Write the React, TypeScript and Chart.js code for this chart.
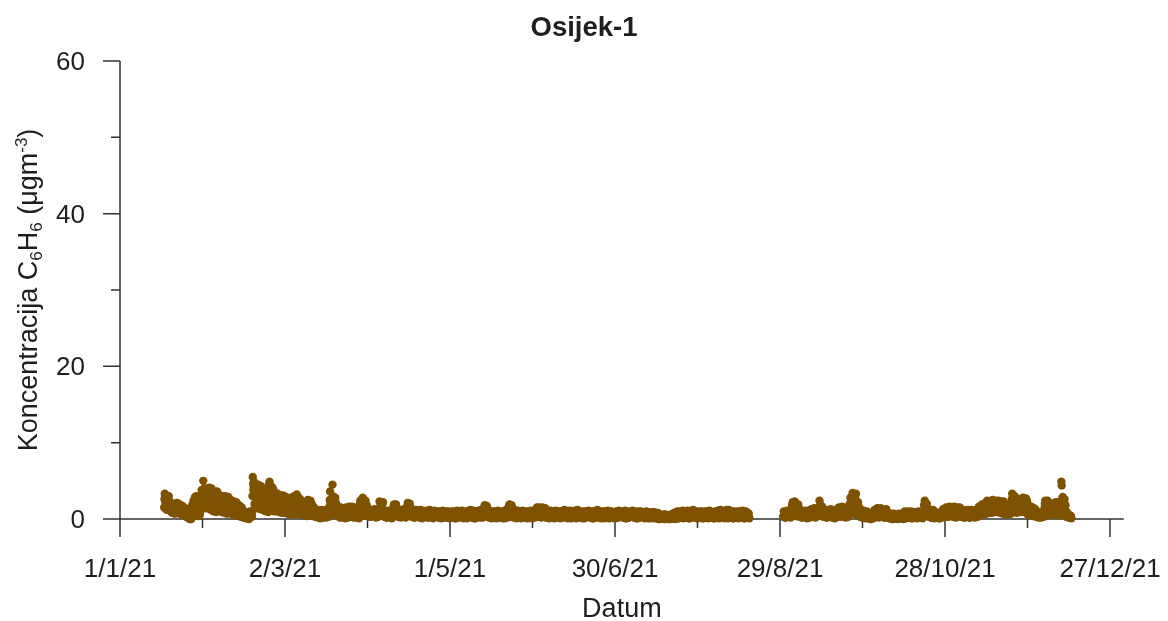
import { useEffect, useRef } from 'react';
import { Chart, registerables } from 'chart.js';

Chart.register(...registerables);

const chartTitle = 'Osijek-1';
const xAxisTitle = 'Datum';
const yTitleParts = [
  { text: 'Koncentracija C', kind: 'n' },
  { text: '6', kind: 'sub' },
  { text: 'H', kind: 'n' },
  { text: '6', kind: 'sub' },
  { text: ' (μgm', kind: 'n' },
  { text: '-3', kind: 'sup' },
  { text: ')', kind: 'n' },
];

const xMin = 0;
const xMax = 365;
const yMin = 0;
const yMax = 60;
const xTickDays = [0, 30, 60, 90, 120, 150, 180, 210, 240, 270, 300, 330, 360];
const xTickLabels = ['1/1/21', '', '2/3/21', '', '1/5/21', '', '30/6/21', '', '29/8/21', '', '28/10/21', '', '27/12/21'];
const yTickValues = [0, 10, 20, 30, 40, 50, 60];
const yTickLabels = ['0', '', '20', '', '40', '', '60'];

// Readings per day (µg/m3), one list per month; null = no data that day.
const jan: (number[] | null)[] = [
  null, null, null, null, null, null, null, null, null, null, null, null, null, null, null, null,
  [1.5, 2.6, 3.3, 3.0, 2.2, 2.8, 3.1, 1.9, 1.2],
  [2.2, 2.9, 2.5, 1.6, 2.0, 2.7, 3.0, 2.4, 1.4],
  [1.4, 2.0, 1.7, 1.0, 1.3, 2.1, 1.9, 1.2, 0.8],
  [1.1, 1.8, 1.5, 0.8, 1.2, 1.9, 2.0, 1.4, 0.7],
  [1.0, 1.7, 1.9, 1.1, 0.9, 1.6, 2.1, 1.5, 0.9],
  [1.2, 2.0, 1.8, 1.0, 0.8, 1.7, 1.9, 1.3, 0.7],
  [0.9, 1.6, 1.4, 0.7, 0.6, 1.5, 1.7, 1.1, 0.6],
  [0.7, 1.3, 1.2, 0.5, 0.4, 1.0, 1.4, 0.8, 0.4],
  [0.4, 0.9, 0.7, 0.3, 0.2, 0.6, 0.8, 0.5, 0.2],
  [0.1, 0.4, 0.3, 0.0, 0.1, 0.3, 0.5, 0.2, 0.0],
  [0.4, 1.2, 1.8, 1.4, 0.9, 2.0, 2.4, 1.6, 1.0],
  [1.3, 2.4, 2.9, 2.0, 1.5, 2.6, 3.0, 2.2, 1.1],
  [0.8, 1.6, 1.4, 0.6, 0.4, 1.2, 1.7, 1.0, 0.5],
  [0.7, 2.2, 3.0, 2.4, 1.6, 3.2, 3.8, 2.8, 1.8],
  [2.0, 3.4, 5.0, 3.9, 2.8, 3.6, 4.0, 2.6, 1.4],
];
const feb: (number[] | null)[] = [
  [1.8, 3.0, 3.8, 3.4, 2.4, 3.2, 4.0, 2.9, 1.5],
  [1.4, 2.8, 3.6, 4.1, 2.6, 3.0, 3.5, 2.2, 1.2],
  [1.9, 3.3, 4.0, 3.1, 2.0, 2.7, 3.4, 2.5, 1.0],
  [1.1, 2.4, 3.0, 3.5, 2.2, 2.6, 3.2, 2.0, 0.9],
  [1.6, 2.9, 3.6, 3.2, 1.9, 2.5, 3.3, 2.4, 1.1],
  [1.2, 2.5, 3.0, 2.7, 1.7, 2.3, 2.9, 2.0, 0.9],
  [1.0, 2.2, 2.8, 3.0, 1.8, 2.1, 2.7, 1.7, 0.8],
  [1.3, 2.4, 3.0, 2.5, 1.5, 2.0, 2.6, 1.8, 0.7],
  [0.9, 2.0, 2.6, 2.9, 1.6, 1.9, 2.5, 1.6, 0.8],
  [1.0, 2.1, 2.5, 2.2, 1.3, 1.7, 2.3, 1.4, 0.6],
  [0.7, 1.5, 2.0, 2.3, 1.2, 1.4, 1.9, 1.1, 0.5],
  [0.8, 1.6, 2.2, 1.8, 1.0, 1.3, 1.8, 1.0, 0.4],
  [0.5, 1.2, 1.8, 1.5, 0.8, 1.0, 1.4, 0.8, 0.3],
  [0.4, 1.0, 1.5, 1.2, 0.6, 0.8, 1.1, 0.5, 0.2],
  [0.2, 0.6, 1.0, 0.7, 0.3, 0.4, 0.6, 0.3, 0.1],
  [0.1, 0.4, 0.8, 0.5, 0.2, 0.3, 0.5, 0.2, 0.0],
  [0.2, 0.6, 1.0, 0.8, 0.4, 0.5, 0.9, 0.6, 0.3],
  [1.0, 3.0, 5.5, 4.6, 3.8, 4.2, 4.9, 3.4, 2.0],
  [1.8, 3.2, 4.2, 3.8, 2.9, 3.5, 4.0, 3.0, 1.6],
  [1.4, 3.0, 4.5, 3.8, 2.6, 3.3, 4.1, 2.8, 1.3],
  [1.6, 3.1, 4.3, 3.6, 2.4, 3.0, 3.9, 2.6, 1.2],
  [1.2, 2.8, 3.6, 4.0, 2.2, 2.9, 3.7, 2.4, 1.0],
  [1.3, 2.6, 3.2, 3.0, 1.9, 2.5, 3.4, 2.2, 0.9],
  [1.4, 3.2, 4.6, 4.9, 2.8, 3.4, 4.2, 2.9, 1.3],
  [1.5, 3.0, 4.2, 3.6, 2.5, 3.1, 3.9, 2.7, 1.2],
  [1.0, 2.4, 3.0, 3.4, 2.0, 2.6, 3.2, 2.3, 1.0],
  [1.2, 2.5, 3.3, 2.8, 1.8, 2.4, 3.0, 2.0, 0.9],
  [0.9, 2.2, 2.8, 3.1, 1.7, 2.3, 2.9, 2.1, 0.8],
];
const mar: (number[] | null)[] = [
  [1.1, 2.4, 3.1, 2.6, 1.6, 2.2, 2.8, 1.9, 0.8],
  [0.8, 2.0, 2.6, 2.9, 1.5, 2.1, 2.7, 1.8, 0.7],
  [0.8, 1.8, 2.4, 2.0, 1.2, 1.6, 2.2, 1.4, 0.6],
  [0.9, 2.0, 2.8, 2.2, 1.3, 1.8, 2.5, 1.6, 0.7],
  [1.0, 2.2, 3.0, 2.4, 1.4, 1.9, 2.6, 1.7, 0.6],
  [1.1, 2.4, 3.2, 2.7, 1.6, 2.1, 2.9, 2.0, 0.8],
  [0.9, 2.1, 2.7, 2.3, 1.4, 1.8, 2.5, 1.6, 0.7],
  [0.6, 1.4, 1.9, 1.6, 1.0, 1.2, 1.7, 1.1, 0.5],
  [0.7, 1.5, 2.0, 1.5, 0.9, 1.3, 1.8, 1.0, 0.4],
  [0.7, 1.7, 2.5, 2.0, 1.1, 1.5, 2.2, 1.3, 0.5],
  [0.8, 1.6, 2.4, 1.8, 1.0, 1.4, 2.0, 1.2, 0.5],
  [0.5, 1.1, 1.6, 1.3, 0.8, 1.0, 1.4, 0.9, 0.3],
  [0.4, 0.9, 1.2, 1.0, 0.5, 0.7, 1.1, 0.6, 0.2],
  [0.4, 0.8, 1.1, 0.9, 0.5, 0.6, 1.0, 0.5, 0.1],
  [0.3, 0.8, 1.2, 1.0, 0.6, 0.7, 1.1, 0.6, 0.2],
  [0.5, 0.9, 1.1, 0.8, 0.4, 0.6, 1.0, 0.7, 0.2],
  [0.4, 0.8, 1.2, 1.0, 0.6, 0.7, 1.1, 0.8, 0.3],
  [0.7, 1.6, 2.5, 3.6, 2.0, 1.5, 2.4, 1.6, 0.6],
  [1.0, 2.4, 4.5, 3.0, 2.2, 2.0, 2.8, 1.7, 0.7],
  [0.7, 1.7, 2.8, 2.2, 1.3, 1.2, 1.9, 1.1, 0.5],
  [0.4, 0.9, 1.4, 1.1, 0.6, 0.7, 1.2, 0.6, 0.2],
  [0.4, 0.9, 1.3, 1.5, 0.7, 0.8, 1.2, 0.7, 0.2],
  [0.3, 0.8, 1.2, 1.0, 0.5, 0.6, 1.1, 0.6, 0.1],
  [0.4, 1.0, 1.5, 1.2, 0.6, 0.8, 1.3, 0.7, 0.2],
  [0.4, 1.1, 1.6, 1.3, 0.7, 0.9, 1.4, 0.8, 0.3],
  [0.5, 1.0, 1.6, 1.2, 0.6, 0.8, 1.3, 0.7, 0.2],
  [0.3, 0.9, 1.3, 1.5, 0.7, 0.8, 1.2, 0.6, 0.2],
  [0.4, 1.0, 1.4, 1.1, 0.5, 0.7, 1.2, 0.6, 0.1],
  [0.6, 1.4, 2.0, 2.4, 1.2, 1.3, 1.9, 1.1, 0.4],
  [0.7, 1.6, 2.8, 2.2, 1.3, 1.5, 2.1, 1.2, 0.5],
  [0.6, 1.4, 2.4, 1.8, 1.0, 1.2, 1.8, 1.0, 0.4],
];
const apr: (number[] | null)[] = [
  [0.5, 1.3, 1.0, 0.3], [0.3, 1.2, 0.9, 0.4], [0.4, 1.1, 1.3, 0.5], [0.2, 1.0, 0.8, 0.3],
  [0.5, 2.3, 1.6, 0.8], [0.6, 1.9, 2.2, 0.9], [0.3, 1.0, 0.8, 0.2], [0.2, 1.1, 0.9, 0.4],
  [0.4, 1.0, 0.7, 0.1], [0.5, 1.5, 1.9, 0.8], [0.6, 1.9, 1.4, 0.5], [0.3, 1.2, 1.0, 0.4],
  [0.2, 1.1, 1.2, 0.3], [0.4, 1.3, 0.9, 0.2], [0.5, 1.6, 2.1, 0.7], [0.6, 2.0, 1.5, 0.4],
  [0.3, 1.1, 0.9, 0.2], [0.2, 1.0, 1.2, 0.4], [0.3, 0.9, 1.1, 0.2], [0.4, 1.2, 0.8, 0.1],
  [0.2, 1.0, 0.9, 0.3], [0.3, 1.1, 0.7, 0.2], [0.2, 0.9, 1.2, 0.4], [0.3, 1.0, 0.8, 0.1],
  [0.2, 1.1, 0.9, 0.3], [0.3, 0.9, 1.0, 0.2], [0.2, 1.0, 0.8, 0.1], [0.4, 1.1, 0.9, 0.3],
  [0.2, 0.8, 1.0, 0.2], [0.3, 1.0, 0.7, 0.1],
];
const may: (number[] | null)[] = [
  [0.2, 0.9, 1.0, 0.3], [0.3, 1.0, 0.8, 0.1], [0.1, 0.8, 1.1, 0.2], [0.2, 1.0, 0.9, 0.3],
  [0.3, 1.1, 0.7, 0.1], [0.2, 0.9, 1.0, 0.2], [0.1, 1.0, 0.8, 0.3], [0.3, 1.2, 0.9, 0.2],
  [0.2, 0.9, 1.1, 0.1], [0.1, 1.0, 0.8, 0.2], [0.3, 1.1, 0.9, 0.3], [0.2, 1.2, 1.0, 0.2],
  [0.3, 1.4, 1.8, 0.5], [0.4, 1.7, 1.3, 0.3], [0.2, 1.1, 0.9, 0.2], [0.1, 0.9, 1.0, 0.3],
  [0.2, 1.0, 0.8, 0.1], [0.3, 1.1, 0.9, 0.2], [0.2, 0.9, 1.0, 0.3], [0.1, 1.0, 0.8, 0.1],
  [0.3, 1.2, 1.0, 0.2], [0.4, 1.6, 1.9, 0.5], [0.3, 1.8, 1.4, 0.4], [0.2, 1.2, 1.0, 0.2],
  [0.1, 0.9, 1.1, 0.3], [0.2, 1.0, 0.8, 0.1], [0.3, 1.1, 0.9, 0.2], [0.2, 0.9, 1.0, 0.3],
  [0.1, 1.0, 0.8, 0.2], [0.2, 1.1, 0.9, 0.1], [0.3, 1.0, 1.1, 0.2],
];
const jun: (number[] | null)[] = [
  [0.3, 1.3, 1.5, 0.4], [0.4, 1.5, 1.2, 0.3], [0.2, 1.4, 1.5, 0.5], [0.3, 1.2, 1.4, 0.2],
  [0.2, 1.1, 1.0, 0.3], [0.1, 0.9, 1.1, 0.2], [0.2, 1.0, 0.8, 0.1], [0.3, 1.1, 0.9, 0.2],
  [0.2, 0.9, 1.0, 0.3], [0.1, 1.0, 0.8, 0.2], [0.2, 1.1, 1.2, 0.3], [0.3, 1.0, 0.9, 0.1],
  [0.2, 0.9, 1.1, 0.2], [0.1, 1.0, 0.8, 0.3], [0.2, 1.1, 0.9, 0.1], [0.3, 1.2, 1.0, 0.2],
  [0.2, 1.0, 0.9, 0.2], [0.1, 0.9, 1.0, 0.1], [0.2, 1.0, 0.8, 0.3], [0.3, 1.1, 0.9, 0.2],
  [0.2, 0.9, 1.0, 0.1], [0.1, 1.0, 0.8, 0.2], [0.2, 1.1, 1.2, 0.3], [0.3, 1.0, 0.9, 0.1],
  [0.2, 0.9, 1.0, 0.2], [0.1, 1.0, 0.8, 0.2], [0.2, 1.1, 0.9, 0.1], [0.3, 1.0, 1.0, 0.3],
  [0.2, 0.9, 0.8, 0.1], [0.1, 1.0, 0.9, 0.2],
];
const jul: (number[] | null)[] = [
  [0.2, 1.1, 1.0, 0.3], [0.3, 1.0, 0.9, 0.2], [0.2, 0.9, 1.1, 0.1], [0.1, 1.0, 0.8, 0.2],
  [0.2, 0.9, 1.0, 0.3], [0.3, 1.1, 0.9, 0.2], [0.2, 1.0, 0.8, 0.1], [0.1, 0.9, 1.0, 0.2],
  [0.2, 1.0, 0.9, 0.3], [0.3, 0.9, 0.8, 0.1], [0.2, 1.0, 0.9, 0.2], [0.1, 0.9, 0.8, 0.1],
  [0.2, 0.8, 0.9, 0.2], [0.1, 0.9, 0.7, 0.1], [0.2, 0.7, 0.8, 0.0], [0.0, 0.6, 0.5, 0.1],
  [0.1, 0.5, 0.6, 0.0], [0.0, 0.6, 0.5, 0.0], [0.1, 0.5, 0.4, 0.0], [0.0, 0.6, 0.5, 0.1],
  [0.1, 0.8, 0.7, 0.0], [0.2, 0.9, 1.0, 0.1], [0.1, 1.0, 0.8, 0.2], [0.2, 0.9, 1.1, 0.1],
  [0.3, 1.0, 0.9, 0.2], [0.2, 1.1, 1.0, 0.1], [0.1, 1.0, 0.9, 0.2], [0.3, 1.2, 1.1, 0.2],
  [0.2, 1.0, 0.9, 0.1], [0.1, 0.9, 1.0, 0.2], [0.2, 1.0, 0.8, 0.1],
];
const aug: (number[] | null)[] = [
  [0.1, 0.9, 1.0, 0.2], [0.2, 1.0, 0.9, 0.1], [0.3, 1.1, 1.0, 0.2], [0.2, 0.9, 0.8, 0.1],
  [0.1, 1.0, 0.9, 0.2], [0.2, 1.1, 1.0, 0.1], [0.3, 1.2, 1.1, 0.2], [0.2, 1.0, 0.9, 0.1],
  [0.2, 1.1, 1.2, 0.3], [0.1, 1.2, 1.0, 0.2], [0.2, 0.9, 1.0, 0.1], [0.1, 1.0, 0.8, 0.2],
  [0.2, 0.9, 1.0, 0.1], [0.3, 1.0, 0.9, 0.2], [0.2, 1.1, 1.0, 0.1], [0.1, 0.9, 1.0, 0.2],
  [0.2, 0.8, 0.7, 0.1],
  null, null, null, null, null, null, null, null, null, null, null, null,
  [0.3, 1.0, 0.8, 0.2], [0.2, 0.9, 1.1, 0.3],
];
const sep: (number[] | null)[] = [
  [0.4, 1.0, 0.9, 0.2], [0.5, 1.8, 2.2, 0.8], [0.6, 2.3, 1.6, 0.4], [0.4, 1.5, 1.9, 0.6],
  [0.3, 1.0, 1.2, 0.2], [0.2, 0.9, 1.0, 0.3], [0.3, 1.1, 0.9, 0.1], [0.2, 1.0, 1.1, 0.2],
  [0.4, 1.3, 1.0, 0.3], [0.5, 1.4, 1.2, 0.2], [0.3, 1.2, 1.4, 0.4], [0.6, 2.4, 1.8, 0.5],
  [0.4, 1.6, 1.3, 0.3], [0.3, 1.2, 1.1, 0.2], [0.2, 1.1, 1.0, 0.3], [0.4, 1.3, 1.2, 0.2],
  [0.3, 1.0, 1.1, 0.1], [0.2, 1.2, 0.9, 0.3], [0.4, 1.5, 1.3, 0.3], [0.5, 1.4, 1.6, 0.4],
  [0.3, 1.5, 1.2, 0.2], [0.4, 1.3, 1.4, 0.3], [0.6, 2.0, 2.8, 1.2], [0.8, 3.4, 2.6, 1.0],
  [0.7, 2.8, 3.3, 1.5], [0.5, 2.2, 1.6, 0.6], [0.3, 1.0, 1.2, 0.2], [0.2, 1.1, 0.9, 0.3],
  [0.1, 0.9, 1.0, 0.2], [0.1, 0.6, 0.5, 0.0],
];
const oct: (number[] | null)[] = [
  [0.0, 0.5, 0.6, 0.1], [0.2, 1.2, 1.0, 0.3], [0.3, 1.4, 1.2, 0.2], [0.4, 1.3, 1.4, 0.3],
  [0.3, 1.2, 1.0, 0.2], [0.2, 1.1, 1.3, 0.4], [0.2, 0.8, 0.7, 0.1], [0.1, 0.6, 0.7, 0.0],
  [0.0, 0.7, 0.6, 0.1], [0.1, 0.6, 0.5, 0.0], [0.2, 0.7, 0.6, 0.1], [0.1, 0.6, 0.7, 0.0],
  [0.2, 1.0, 0.9, 0.1], [0.3, 1.0, 0.8, 0.2], [0.2, 0.9, 1.0, 0.1], [0.1, 0.8, 0.9, 0.2],
  [0.2, 0.9, 0.8, 0.1], [0.3, 1.0, 0.9, 0.2], [0.2, 0.9, 1.0, 0.1], [0.5, 1.8, 2.4, 0.8],
  [0.4, 2.0, 1.4, 0.5], [0.3, 1.2, 1.1, 0.2], [0.2, 1.0, 1.2, 0.3], [0.1, 0.8, 0.9, 0.2],
  [0.2, 0.7, 0.8, 0.1], [0.1, 0.9, 0.8, 0.2], [0.3, 1.3, 1.2, 0.4], [0.4, 1.5, 1.3, 0.3],
  [0.3, 1.4, 1.6, 0.5], [0.5, 1.5, 1.3, 0.3], [0.4, 1.6, 1.4, 0.2],
];
const nov: (number[] | null)[] = [
  [0.3, 1.3, 1.5, 0.4], [0.4, 1.5, 1.2, 0.3], [0.3, 1.1, 1.2, 0.2], [0.2, 1.0, 1.1, 0.3],
  [0.3, 1.2, 1.0, 0.2], [0.2, 1.1, 1.2, 0.3], [0.3, 1.0, 1.1, 0.2], [0.4, 1.2, 1.0, 0.3],
  [0.5, 1.2, 1.6, 1.4, 0.8, 1.0, 1.5, 0.6],
  [0.6, 1.3, 1.7, 1.9, 1.0, 1.2, 1.6, 0.7],
  [0.6, 1.5, 2.0, 1.6, 1.1, 1.3, 1.8, 0.8],
  [0.7, 1.8, 2.4, 2.0, 1.3, 1.6, 2.2, 0.9],
  [0.8, 1.7, 2.0, 2.3, 1.4, 1.5, 2.1, 0.9],
  [0.8, 1.9, 2.5, 2.1, 1.5, 1.7, 2.3, 1.0],
  [0.9, 1.8, 2.3, 2.4, 1.4, 1.6, 2.2, 1.0],
  [0.9, 2.0, 2.4, 2.0, 1.4, 1.8, 2.3, 0.9],
  [0.8, 1.8, 2.2, 2.3, 1.5, 1.7, 2.1, 0.9],
  [0.7, 1.7, 2.3, 1.9, 1.2, 1.5, 2.0, 0.8],
  [0.6, 1.3, 1.8, 1.6, 1.0, 1.2, 1.7, 0.7],
  [0.6, 1.2, 1.5, 1.7, 1.0, 1.1, 1.6, 0.7],
  [0.8, 2.0, 2.6, 3.3, 1.8, 2.2, 2.8, 1.2],
  [1.0, 2.2, 3.0, 2.4, 1.7, 2.0, 2.7, 1.1],
  [0.8, 1.9, 2.6, 2.2, 1.5, 1.8, 2.4, 1.0],
  [0.9, 2.0, 2.4, 2.6, 1.6, 1.9, 2.5, 1.1],
  [0.9, 2.1, 2.8, 2.3, 1.4, 1.8, 2.6, 1.0],
  [1.0, 2.2, 2.5, 2.7, 1.7, 2.0, 2.4, 1.1],
  [0.6, 1.3, 1.8, 1.4, 0.9, 1.1, 1.6, 0.7],
  [0.5, 1.1, 1.5, 1.6, 0.8, 1.0, 1.4, 0.6],
  [0.4, 1.0, 1.4, 1.2, 0.7, 0.9, 1.3, 0.5],
  [0.3, 0.7, 1.0, 0.8, 0.5, 0.6, 0.9, 0.3],
];
const dec: (number[] | null)[] = [
  [0.2, 0.5, 0.8, 0.7, 0.4, 0.5, 0.7, 0.2],
  [0.3, 0.6, 0.9, 0.7, 0.4, 0.5, 0.8, 0.3],
  [0.5, 1.4, 2.0, 2.4, 1.3, 1.6, 2.2, 0.9],
  [0.7, 1.6, 2.4, 1.9, 1.2, 1.5, 2.1, 0.8],
  [0.5, 1.4, 2.0, 1.8, 1.0, 1.3, 1.9, 0.7],
  [0.6, 1.5, 1.9, 2.0, 1.2, 1.4, 1.8, 0.7],
  [0.6, 1.6, 2.2, 1.7, 1.1, 1.4, 2.0, 0.8],
  [0.5, 1.4, 1.8, 2.2, 1.2, 1.3, 1.9, 0.7],
  [0.6, 2.2, 4.9, 4.4, 2.6, 2.0, 2.9, 1.2],
  [0.5, 1.5, 2.2, 2.6, 1.3, 1.2, 1.8, 0.7],
  [0.3, 0.6, 0.9, 0.7, 0.4, 0.5, 0.6, 0.2],
  [0.2, 0.4, 0.5, 0.4, 0.2, 0.3, 0.4, 0.1],
];

const months = [jan, feb, mar, apr, may, jun, jul, aug, sep, oct, nov, dec];

const dotColor = '#7f5200';
const axisColor = '#333333';
const textColor = '#1e1e1e';
const fontFamily = '"Liberation Sans", Arial, sans-serif';

function buildPoints() {
  const pts: { x: number; y: number }[] = [];
  let day = 0;
  for (const m of months) {
    for (const vals of m) {
      if (vals) {
        vals.forEach((v, i) => pts.push({ x: day + (i + 0.5) / vals.length, y: v }));
      }
      day++;
    }
  }
  return pts;
}

const decorPlugin = {
  id: 'decor',
  beforeDatasetsDraw(chart: any) {
    const { ctx, scales } = chart;
    const xs = scales.x;
    const ys = scales.y;
    const x0 = xs.getPixelForValue(xMin);
    const x1 = xs.getPixelForValue(xMax);
    const y0 = ys.getPixelForValue(yMin);
    const y1 = ys.getPixelForValue(yMax);
    ctx.save();
    ctx.strokeStyle = axisColor;
    ctx.lineWidth = 1.5;
    ctx.beginPath();
    ctx.moveTo(x0, y1);
    ctx.lineTo(x0, y0);
    ctx.moveTo(x0, y0);
    ctx.lineTo(x1, y0);
    xTickDays.forEach((d, i) => {
      const px = xs.getPixelForValue(d);
      const len = xTickLabels[i] ? 18 : 9;
      ctx.moveTo(px, y0);
      ctx.lineTo(px, y0 + len);
    });
    yTickValues.forEach((v, i) => {
      const py = ys.getPixelForValue(v);
      const len = yTickLabels[i] ? 17 : 9;
      ctx.moveTo(x0, py);
      ctx.lineTo(x0 - len, py);
    });
    ctx.stroke();

    ctx.fillStyle = textColor;
    ctx.font = `26px ${fontFamily}`;
    ctx.textBaseline = 'alphabetic';
    ctx.textAlign = 'center';
    xTickDays.forEach((d, i) => {
      if (!xTickLabels[i]) return;
      ctx.fillText(xTickLabels[i], xs.getPixelForValue(d), y0 + 58);
    });
    ctx.textAlign = 'right';
    yTickValues.forEach((v, i) => {
      if (!yTickLabels[i]) return;
      ctx.fillText(yTickLabels[i], x0 - 35, ys.getPixelForValue(v) + 9);
    });

    // x axis title
    ctx.textAlign = 'center';
    ctx.font = `27px ${fontFamily}`;
    ctx.fillText(xAxisTitle, (x0 + x1) / 2, y0 + 98);

    // chart title
    ctx.font = `bold 27.5px ${fontFamily}`;
    ctx.fillText(chartTitle, chart.width / 2, 36);

    // y axis title, rotated, with sub/superscripts
    const base = 27;
    const small = 17;
    ctx.save();
    ctx.translate(37, (y0 + y1) / 2);
    ctx.rotate(-Math.PI / 2);
    ctx.textAlign = 'left';
    let total = 0;
    const widths = yTitleParts.map((p) => {
      ctx.font = `${p.kind === 'n' ? base : small}px ${fontFamily}`;
      const w = ctx.measureText(p.text).width;
      total += w;
      return w;
    });
    let cx = -total / 2;
    yTitleParts.forEach((p, i) => {
      ctx.font = `${p.kind === 'n' ? base : small}px ${fontFamily}`;
      const dy = p.kind === 'sub' ? 5 : p.kind === 'sup' ? -10 : 0;
      ctx.fillText(p.text, cx, dy);
      cx += widths[i];
    });
    ctx.restore();

    ctx.restore();
  },
};

export default function App() {
  const canvasRef = useRef<HTMLCanvasElement | null>(null);

  useEffect(() => {
    const canvas = canvasRef.current;
    if (!canvas) return;
    const chart = new Chart(canvas, {
      type: 'scatter',
      data: {
        datasets: [
          {
            data: buildPoints(),
            backgroundColor: dotColor,
            borderWidth: 0,
            pointRadius: 4.2,
            pointHoverRadius: 4.2,
            clip: false as any,
          },
        ],
      },
      options: {
        animation: false,
        responsive: false,
        devicePixelRatio: 1,
        events: [],
        layout: { padding: { left: 120, right: 44.25, top: 61, bottom: 102 } },
        plugins: { legend: { display: false }, tooltip: { enabled: false }, title: { display: false } },
        scales: {
          x: { type: 'linear', min: xMin, max: xMax, display: false },
          y: { type: 'linear', min: yMin, max: yMax, display: false },
        },
      },
      plugins: [decorPlugin],
    });
    return () => chart.destroy();
  }, []);

  return (
    <div style={{ position: 'fixed', left: 0, top: 0, width: 1168, height: 621, background: '#fff' }}>
      <canvas ref={canvasRef} width={1168} height={621} style={{ width: 1168, height: 621, display: 'block' }} />
    </div>
  );
}
